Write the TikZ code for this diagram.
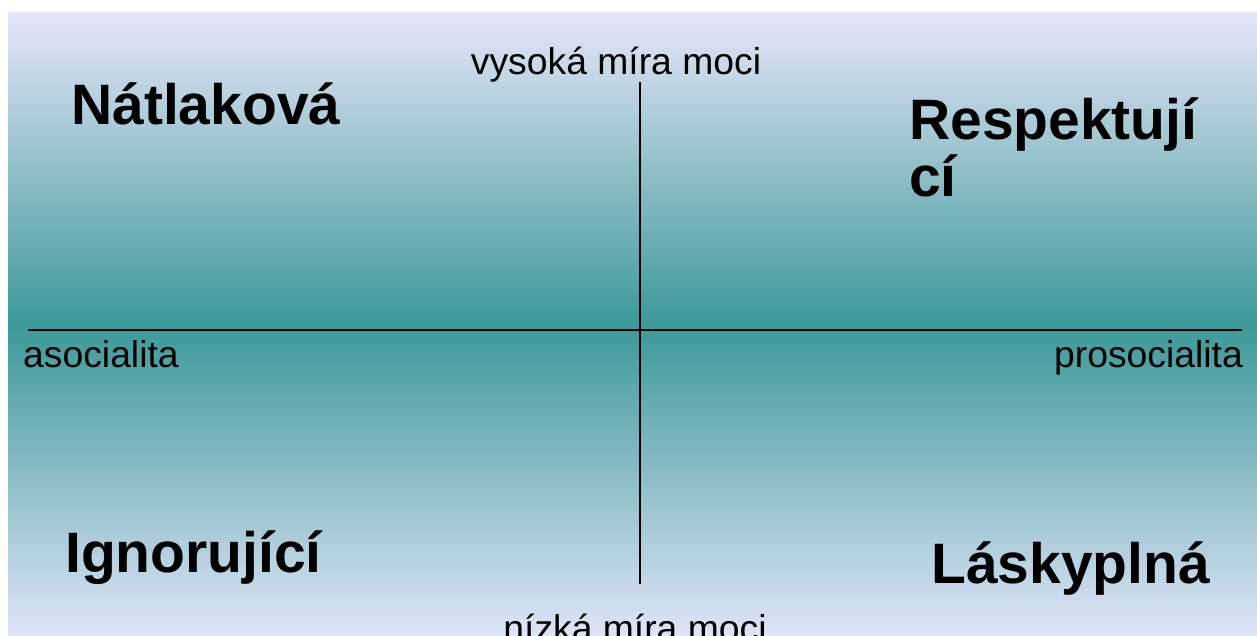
\documentclass[tikz,border=0pt]{standalone}
\usepackage{fontspec}
\setmainfont{Liberation Sans}
\definecolor{lavtop}{RGB}{230,230,250}
\definecolor{tealmid}{RGB}{60,153,152}
\definecolor{lavbot}{RGB}{224,228,248}
\begin{document}
\begin{tikzpicture}[x=1pt,y=-1pt,
  quadrant/.style={inner sep=0pt,anchor=base west,
    font=\fontsize{57}{57}\selectfont\bfseries,align=left},
  axislabel/.style={inner sep=0pt,font=\fontsize{37.3}{40}\selectfont},
  axis/.style={line width=1.8pt,draw=black}]
  % page and gradient panel
  \useasboundingbox (0,0) rectangle (1257,636);
  \fill[white] (0,0) rectangle (1257,636);
  \shade[top color=lavtop,bottom color=lavbot,middle color=tealmid]
        (8,13) rectangle (1257,636);

  % axis end points
  \coordinate (west) at (28,330);
  \coordinate (east) at (1242,330);
  \coordinate (north) at (640,82);
  \coordinate (south) at (640,584);
  \draw[axis] (west) -- (east);
  \draw[axis] (north) -- (south);

  % axis labels
  \node[axislabel,anchor=base] (high) at (616,75) {vysoká míra moci};
  \node[axislabel,anchor=base] (low) at (635,641) {nízká míra moci};
  \node[axislabel,anchor=base west] (aso) at (23,367) {asocialita};
  \node[axislabel,anchor=base east] (pro) at (1243,367) {prosocialita};

  % quadrant names
  \node[quadrant] (q1) at (71,125) {Nátlaková};
  \node[quadrant] (q2) at (909,197) {Respektují\\cí};
  \node[quadrant] (q3) at (65,572) {Ignorující};
  \node[quadrant] (q4) at (931,583) {Láskyplná};
\end{tikzpicture}
\end{document}
